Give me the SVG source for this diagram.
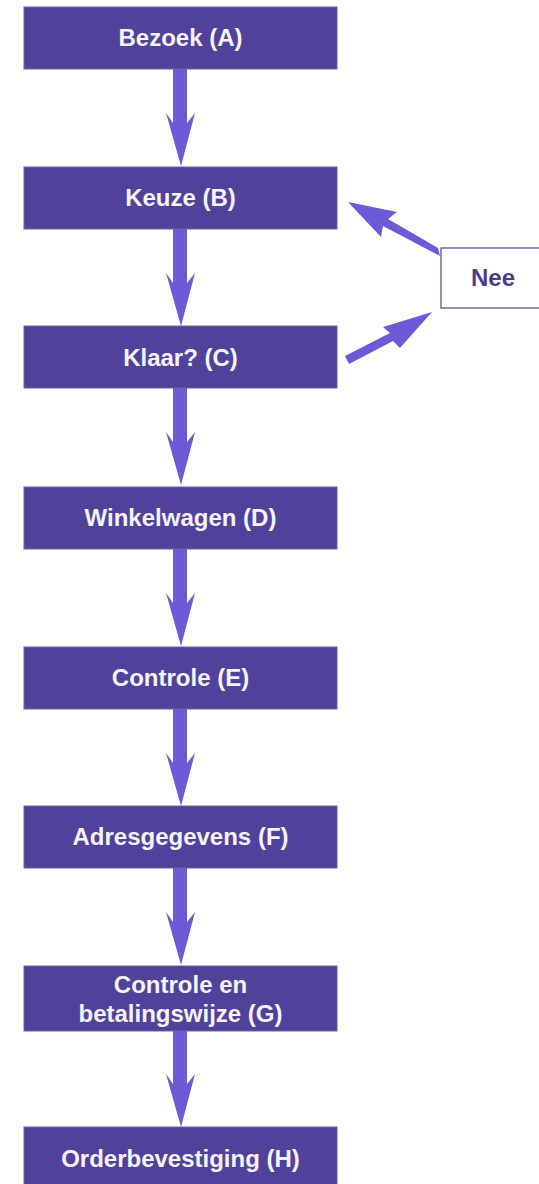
<svg xmlns="http://www.w3.org/2000/svg" width="539" height="1184" viewBox="0 0 539 1184">
<style>
.box{fill:#50429a;stroke:#6a62aa;stroke-width:1}
.lbl{font-family:"Liberation Sans Narrow","Liberation Sans",Arial,sans-serif;font-weight:bold;font-size:24px;fill:#f4f2fa;text-anchor:middle;font-stretch:condensed}
.arr{fill:#6b5bd6}
.nee{fill:#fff;stroke:#50429a;stroke-width:1.2}
.neet{font-family:"Liberation Sans Narrow","Liberation Sans",Arial,sans-serif;font-weight:bold;font-size:24px;fill:#4a3d90;text-anchor:middle}
</style>
<defs>
<polygon id="down" points="-7,0 7,0 7,54 15,44 1,97 -14,44 -7,54"/>
</defs>
<rect width="539" height="1184" fill="#fff"/>
<g id="connectors">
<use href="#down" x="180" y="69" class="arr"/>
<use href="#down" x="180" y="229" class="arr"/>
<use href="#down" x="180" y="388" class="arr"/>
<use href="#down" x="180" y="549" class="arr"/>
<use href="#down" x="180" y="709" class="arr"/>
<use href="#down" x="180" y="868" class="arr"/>
<use href="#down" x="180" y="1030" class="arr"/>
<polygon class="arr" points="438,248 440,256 383,226 381,237 348,202 397,212 388,219"/>
<polygon class="arr" points="345,356 349,364 393,341 400,348 432,312 383,327 390,333"/>
</g>
<g id="A"><rect class="box" x="24" y="7" width="313" height="62"/><text class="lbl" x="180.5" y="46">Bezoek (A)</text></g>
<g id="B"><rect class="box" x="24" y="167" width="313" height="62"/><text class="lbl" x="180.5" y="206">Keuze (B)</text></g>
<g id="C"><rect class="box" x="24" y="326" width="313" height="62"/><text class="lbl" x="180.5" y="366">Klaar? (C)</text></g>
<g id="D"><rect class="box" x="24" y="487" width="313" height="62"/><text class="lbl" x="180.5" y="526">Winkelwagen (D)</text></g>
<g id="E"><rect class="box" x="24" y="647" width="313" height="62"/><text class="lbl" x="180.5" y="686">Controle (E)</text></g>
<g id="F"><rect class="box" x="24" y="806" width="313" height="62"/><text class="lbl" x="180.5" y="845">Adresgegevens (F)</text></g>
<g id="G"><rect class="box" x="24" y="966" width="313" height="65"/><text class="lbl" x="180.5" y="993">Controle en</text><text class="lbl" x="180.5" y="1022">betalingswijze (G)</text></g>
<g id="H"><rect class="box" x="24" y="1127" width="313" height="62"/><text class="lbl" x="180.5" y="1167">Orderbevestiging (H)</text></g>
<g id="Nee"><rect class="nee" x="441" y="248" width="110" height="60"/><text class="neet" x="493" y="286">Nee</text></g>
</svg>
